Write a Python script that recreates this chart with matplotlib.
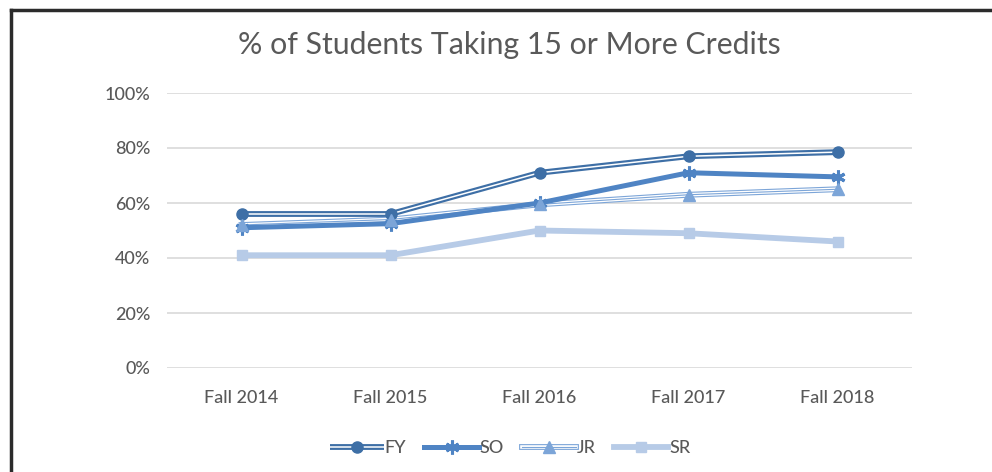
import matplotlib
matplotlib.use("Agg")
import matplotlib.pyplot as plt
import matplotlib.patheffects as pe
from matplotlib.ticker import PercentFormatter
from matplotlib.legend_handler import HandlerTuple
from matplotlib.lines import Line2D

plt.rcParams['font.family'] = ['Lato', 'DejaVu Sans']

categories = ["Fall 2014", "Fall 2015", "Fall 2016", "Fall 2017", "Fall 2018"]
fy = [0.56, 0.56, 0.71, 0.77, 0.785]
so = [0.51, 0.525, 0.60, 0.71, 0.695]
jr = [0.52, 0.54, 0.595, 0.63, 0.65]
sr = [0.41, 0.41, 0.50, 0.49, 0.46]

c_fy = "#3E6FA6"
c_so = "#4F84C4"
c_jr = "#7CA5D8"
c_sr = "#B7CBE7"
txt = "#595959"

fig = plt.figure(figsize=(9.92, 4.72), dpi=100)
ax = fig.add_axes([167/992, 1-368/472, (912-167)/992, (368-93)/472])
x = list(range(len(categories)))

# FY: double line
l_fy, = ax.plot(x, fy, color="white", lw=1.1, solid_capstyle='butt',
                path_effects=[pe.Stroke(linewidth=4.2, foreground=c_fy), pe.Normal()], zorder=5)
m_fy, = ax.plot(x, fy, ls='none', marker='o', ms=8, color=c_fy, zorder=6)
# SO: thick line
l_so, = ax.plot(x, so, color=c_so, lw=3.6, zorder=4)
m_so, = ax.plot(x, so, ls='none', marker=(6, 2, 0), ms=10, mew=2.2, color=c_so, zorder=6)
# JR: triple thin line
l_jr, = ax.plot(x, jr, color=c_jr, lw=0.8,
                path_effects=[pe.Stroke(linewidth=4.2, foreground=c_jr),
                              pe.Stroke(linewidth=2.6, foreground="white"), pe.Normal()], zorder=3)
m_jr, = ax.plot(x, jr, ls='none', marker='^', ms=8, color=c_jr, zorder=6)
# SR: thick light line
l_sr, = ax.plot(x, sr, color=c_sr, lw=4.2, zorder=2)
m_sr, = ax.plot(x, sr, ls='none', marker='s', ms=7.5, color=c_sr, zorder=6)

ax.set_xlim(-0.5, len(categories) - 0.5)
ax.set_ylim(0, 1)
ax.set_yticks([0, 0.2, 0.4, 0.6, 0.8, 1.0])
ax.yaxis.set_major_formatter(PercentFormatter(1.0, decimals=0))
ax.set_xticks(x)
ax.set_xticklabels(categories)
ax.grid(axis='y', color="#D9D9D9", lw=1.2)
ax.set_axisbelow(True)
for s in ax.spines.values():
    s.set_visible(False)
ax.tick_params(axis='both', length=0, labelsize=13, colors=txt)
for lab in ax.get_xticklabels() + ax.get_yticklabels():
    lab.set_fontweight('medium')
ax.tick_params(axis='y', pad=12)
ax.tick_params(axis='x', pad=16)

fig.text(509/992, 1-45/472, "% of Students Taking 15 or More Credits", ha='center', va='center',
         fontsize=21.8, color=txt)

leg = fig.legend([(l_fy, m_fy), (l_so, m_so), (l_jr, m_jr), (l_sr, m_sr)],
                 ["FY", "SO", "JR", "SR"],
                 handler_map={tuple: HandlerTuple(ndivide=1)},
                 loc='center', bbox_to_anchor=(510/992, 24/472), ncol=4, frameon=False,
                 fontsize=13, handlelength=3.0, handletextpad=0.05, columnspacing=1.0,
                 labelcolor=txt)
for t in leg.get_texts():
    t.set_fontweight('medium')

# chart border (top and left edges visible)
fig.add_artist(Line2D([11/992, 11/992], [0, 1-10/472], transform=fig.transFigure, color="#2b2b2b", lw=2.5))
fig.add_artist(Line2D([11/992, 1], [1-10/472, 1-10/472], transform=fig.transFigure, color="#2b2b2b", lw=2.5))

fig.savefig("out.png", dpi=100)
